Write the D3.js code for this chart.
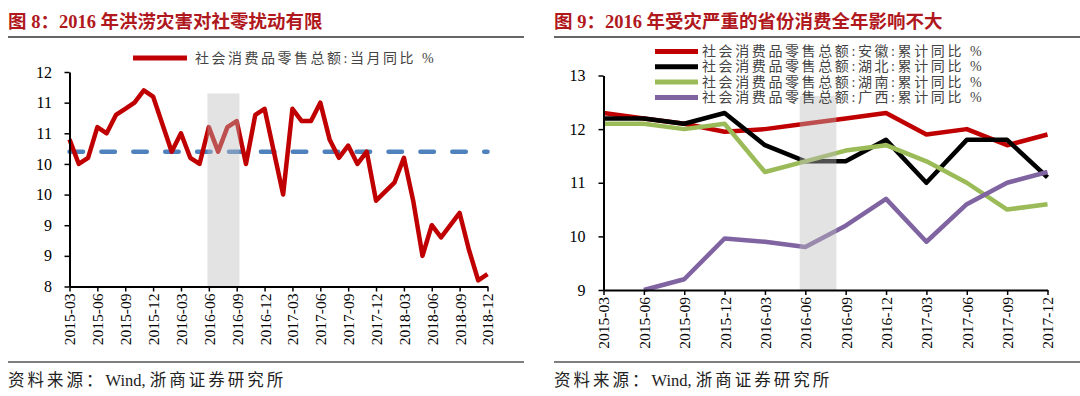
<!DOCTYPE html>
<html>
<head>
<meta charset="utf-8">
<script src="https://cdn.jsdelivr.net/npm/d3@7"></script>
<style>
  body { margin: 0; background: #fff; }
  svg text { font-family: "Liberation Serif", "Noto Sans CJK SC", serif; }
</style>
</head>
<body>
<svg id="chart" width="1080" height="396"></svg>
<script>
// ---- data: left chart (monthly) ----
var months = [
  "2015-03","2015-04","2015-05","2015-06","2015-07","2015-08","2015-09","2015-10","2015-11","2015-12",
  "2016-01","2016-02","2016-03","2016-04","2016-05","2016-06","2016-07","2016-08","2016-09","2016-10","2016-11","2016-12",
  "2017-01","2017-02","2017-03","2017-04","2017-05","2017-06","2017-07","2017-08","2017-09","2017-10","2017-11","2017-12",
  "2018-01","2018-02","2018-03","2018-04","2018-05","2018-06","2018-07","2018-08","2018-09","2018-10","2018-11","2018-12"
];
// january values are not published (jan+feb combined), line goes straight across
var retailYoY = [
  10.4, 10.0, 10.1, 10.6, 10.5, 10.8, 10.9, 11.0, 11.2, 11.1,
  null, 10.2, 10.5, 10.1, 10.0, 10.6, 10.2, 10.6, 10.7, 10.0, 10.8, 10.9,
  null, 9.5, 10.9, 10.7, 10.7, 11.0, 10.4, 10.1, 10.3, 10.0, 10.2, 9.4,
  null, 9.7, 10.1, 9.4, 8.5, 9.0, 8.8, 9.0, 9.2, 8.6, 8.1, 8.2
];
var retailAvg = 10.2;
var leftYTicks = [8, 8.5, 9, 9.5, 10, 10.5, 11, 11.5];
var leftBand = [14.85, 18.3];   // month index range of the flood period
var leftBandTop = 11.15;

// ---- data: right chart (quarterly, cumulative) ----
var quarters = ["2015-03","2015-06","2015-09","2015-12","2016-03","2016-06",
                "2016-09","2016-12","2017-03","2017-06","2017-09","2017-12"];
var anhui   = [12.3, 12.2, 12.1, 11.95, 12.0, 12.1, 12.2, 12.3, 11.9, 12.0, 11.7, 11.9];
var hubei   = [12.2, 12.2, 12.1, 12.3, 11.7, 11.4, 11.4, 11.8, 11.0, 11.8, 11.8, 11.1];
var hunan   = [12.1, 12.1, 12.0, 12.1, 11.2, 11.4, 11.6, 11.7, 11.4, 11.0, 10.5, 10.6];
var guangxi = [null, 9.0, 9.2, 9.96, 9.9, 9.8, 10.2, 10.7, 9.9, 10.6, 11.0, 11.2];
var rightNames = ["社会消费品零售总额:安徽:累计同比 %", "社会消费品零售总额:湖北:累计同比 %",
                  "社会消费品零售总额:湖南:累计同比 %", "社会消费品零售总额:广西:累计同比 %"];
var rightYTicks = [9, 10, 11, 12, 13];
var rightBand = [4.86, 5.77];
var rightBandTop = 12.62;

var svg = d3.select("#chart");
var axisFont = "Liberation Serif, serif";

// ---- titles, rules and source ----
var panels = [
  {x0: 8,   x1: 524,  title: "图 8：2016 年洪涝灾害对社零扰动有限"},
  {x0: 554, x1: 1080, title: "图 9：2016 年受灾严重的省份消费全年影响不大"}
];
panels.forEach(function(p) {
  svg.append("text")
    .attr("x", p.x0)
    .attr("y", 28)
    .attr("font-size", 18.5)
    .attr("font-weight", "bold")
    .attr("fill", "#b0181d")
    .text(p.title);
  svg.append("line")
    .attr("x1", p.x0).attr("x2", p.x1)
    .attr("y1", 37).attr("y2", 37)
    .attr("stroke", "#333").attr("stroke-width", 1.5);
  svg.append("line")
    .attr("x1", p.x0).attr("x2", p.x1)
    .attr("y1", 362).attr("y2", 362)
    .attr("stroke", "#555").attr("stroke-width", 1.5);
  var src = svg.append("text")
    .attr("x", p.x0)
    .attr("y", 386)
    .attr("font-size", 16.5)
    .attr("fill", "#222");
  src.append("tspan").attr("letter-spacing", 3).text("资料来源：");
  src.append("tspan").text("Wind, ");
  src.append("tspan").attr("letter-spacing", 3).text("浙商证券研究所");
});

function styleAxis(g, size) {
  g.attr("font-family", axisFont).attr("font-size", size);
  g.select(".domain").attr("stroke", "#000").attr("stroke-width", 2);
  g.selectAll(".tick line").attr("stroke", "#000").attr("stroke-width", 1.5);
  g.selectAll(".tick text").attr("fill", "#000");
}

function rotateLabels(g) {
  g.selectAll(".tick text")
    .attr("transform", "rotate(-90)")
    .attr("text-anchor", "end")
    .attr("x", -7)
    .attr("y", 0)
    .attr("dy", "0.35em");
}

// ================= left chart =================
var xL = d3.scaleLinear().domain([0, months.length - 1]).range([69.5, 487.5]);
var yL = d3.scaleLinear().domain([8, 11.5]).range([286.5, 72]);

var left = svg.append("g");

var lineL = d3.line()
  .x(function(d) { return xL(d.i); })
  .y(function(d) { return yL(d.v); });

var retailPts = retailYoY.map(function(v, i) { return {i: i, v: v}; })
  .filter(function(d) { return d.v != null; });

left.append("path")
  .attr("fill", "none")
  .attr("stroke", "#4f81bd")
  .attr("stroke-width", 4.5)
  .attr("stroke-linecap", "round")
  .attr("stroke-dasharray", "13.5,18.4")
  .attr("d", lineL([{i: 0, v: retailAvg}, {i: months.length - 1, v: retailAvg}]));

left.append("path")
  .attr("fill", "none")
  .attr("stroke", "#c00000")
  .attr("stroke-width", 4.5)
  .attr("stroke-linejoin", "round")
  .attr("d", lineL(retailPts));

// shaded flood period, drawn over the lines
left.append("rect")
  .attr("x", xL(leftBand[0]))
  .attr("width", xL(leftBand[1]) - xL(leftBand[0]))
  .attr("y", yL(leftBandTop))
  .attr("height", yL(8) - yL(leftBandTop))
  .attr("fill", "#bdbdbd")
  .attr("fill-opacity", 0.42);

var xAxisL = left.append("g")
  .attr("transform", "translate(0," + yL(8) + ")")
  .call(d3.axisBottom(xL)
    .tickValues(d3.range(0, months.length, 3))
    .tickFormat(function(i) { return months[i]; })
    .tickSizeInner(5).tickSizeOuter(0));
styleAxis(xAxisL, 15.5);
rotateLabels(xAxisL);

var yAxisL = left.append("g")
  .attr("transform", "translate(" + xL(0) + ",0)")
  .call(d3.axisLeft(yL)
    .tickValues(leftYTicks)
    .tickFormat(d3.format(".0f"))
    .tickSizeInner(5).tickSizeOuter(0).tickPadding(12.5));
styleAxis(yAxisL, 16);

// legend
left.append("line")
  .attr("x1", 133).attr("x2", 187)
  .attr("y1", 58).attr("y2", 58)
  .attr("stroke", "#c00000").attr("stroke-width", 5);
left.append("text")
  .attr("x", 195).attr("y", 58)
  .attr("dominant-baseline", "central")
  .attr("font-family", "Noto Sans CJK SC, sans-serif")
  .attr("font-size", 14)
  .attr("letter-spacing", 2.5)
  .attr("fill", "#444")
  .text("社会消费品零售总额:当月同比 %");

// ================= right chart =================
var xR = d3.scaleLinear().domain([0, quarters.length - 1]).range([603.5, 1047.5]);
var yR = d3.scaleLinear().domain([9, 13]).range([290, 75.5]);

var right = svg.append("g");
var colors = ["#c00000", "#000000", "#9bbb59", "#8064a2"];
var series = [anhui, hubei, hunan, guangxi];

var lineR = d3.line()
  .defined(function(d) { return d != null; })
  .x(function(d, i) { return xR(i); })
  .y(function(d) { return yR(d); });

series.forEach(function(s, k) {
  right.append("path")
    .attr("fill", "none")
    .attr("stroke", colors[k])
    .attr("stroke-width", 4.5)
    .attr("stroke-linejoin", "round")
    .attr("d", lineR(s));
});

right.append("rect")
  .attr("x", xR(rightBand[0]))
  .attr("width", xR(rightBand[1]) - xR(rightBand[0]))
  .attr("y", yR(rightBandTop))
  .attr("height", yR(9) - yR(rightBandTop))
  .attr("fill", "#bdbdbd")
  .attr("fill-opacity", 0.42);

var xAxisR = right.append("g")
  .attr("transform", "translate(0," + yR(9) + ")")
  .call(d3.axisBottom(xR)
    .tickValues(d3.range(0, quarters.length))
    .tickFormat(function(i) { return quarters[i]; })
    .tickSizeInner(5).tickSizeOuter(0));
styleAxis(xAxisR, 15.5);
rotateLabels(xAxisR);

var yAxisR = right.append("g")
  .attr("transform", "translate(" + xR(0) + ",0)")
  .call(d3.axisLeft(yR)
    .tickValues(rightYTicks)
    .tickFormat(d3.format("d"))
    .tickSizeInner(5).tickSizeOuter(0).tickPadding(13));
styleAxis(yAxisR, 16);

// legend, four rows
rightNames.forEach(function(name, k) {
  var ly = 51.5 + k * 15.3;
  right.append("line")
    .attr("x1", 655).attr("x2", 698)
    .attr("y1", ly).attr("y2", ly)
    .attr("stroke", colors[k]).attr("stroke-width", 5);
  right.append("text")
    .attr("x", 702).attr("y", ly)
    .attr("dominant-baseline", "central")
    .attr("font-family", "Noto Sans CJK SC, sans-serif")
    .attr("font-size", 14)
    .attr("letter-spacing", 2.6)
    .attr("fill", "#444")
    .text(name);
});
</script>
</body>
</html>
